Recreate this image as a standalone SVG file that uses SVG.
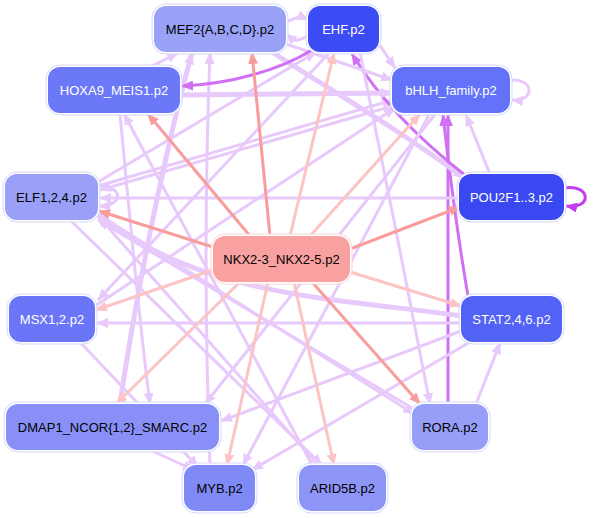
<svg xmlns="http://www.w3.org/2000/svg" width="594" height="518" viewBox="0 0 594 518">
<style>
.n text{font-family:"Liberation Sans",Arial,sans-serif;font-size:13px;text-anchor:middle;dominant-baseline:central}
.o{fill:#fff;stroke:#d4d8fb;stroke-width:1}
.w{fill:#fff}
.k{fill:#000}
.e path{fill:none}
.sd{stroke:#f99c9c;stroke-width:3;marker-end:url(#msd)}
.sl{stroke:#fcc4c4;stroke-width:3;marker-end:url(#msl)}
.lv{stroke:#e8c9fb;stroke-width:3;marker-end:url(#mlv)}
.lt{stroke:#e8c9fb;stroke-width:5;marker-end:url(#mlv)}
.pu{stroke:#d070f4;stroke-width:3;marker-end:url(#mpu)}
.pd{stroke:#c23cf0;stroke-width:3;marker-end:url(#mpd)}
</style>
<defs>
<marker id="msd" markerWidth="12" markerHeight="10" refX="11" refY="5" orient="auto" markerUnits="userSpaceOnUse"><path d="M0,0 L12,5 L0,10 z" fill="#f99c9c"/></marker>
<marker id="msl" markerWidth="12" markerHeight="10" refX="11" refY="5" orient="auto" markerUnits="userSpaceOnUse"><path d="M0,0 L12,5 L0,10 z" fill="#fcc4c4"/></marker>
<marker id="mlv" markerWidth="12" markerHeight="10" refX="11" refY="5" orient="auto" markerUnits="userSpaceOnUse"><path d="M0,0 L12,5 L0,10 z" fill="#e8c9fb"/></marker>
<marker id="mpu" markerWidth="12" markerHeight="10" refX="11" refY="5" orient="auto" markerUnits="userSpaceOnUse"><path d="M0,0 L12,5 L0,10 z" fill="#d070f4"/></marker>
<marker id="mpd" markerWidth="12" markerHeight="10" refX="11" refY="5" orient="auto" markerUnits="userSpaceOnUse"><path d="M0,0 L12,5 L0,10 z" fill="#c23cf0"/></marker>
</defs>
<g id="edges" class="e">
<!-- lavender / purple -->
<path class="lv" d="M286,22 C300,16 300,16 308,20"/>
<path class="lv" d="M308,36 C296,42 296,42 286,34"/>
<path class="lv" d="M150,67 L178,53"/>
<path class="lv" d="M98,182 L316,52"/>
<path class="lv" d="M98,186 L393,100"/>
<path class="lv" d="M95,306 L395,108"/>
<path class="lt" d="M120,404 C135,300 165,150 192,53"/>
<path class="lv" d="M210,465 C205,330 205,180 210,53"/>
<path class="lv" d="M318,465 L98,216"/>
<path class="lv" d="M312,465 L124,114"/>
<path class="lv" d="M412,408 L98,220"/>
<path class="pu" d="M448,404 L448,115"/>
<path class="pu" d="M468,296 C455,220 448,160 443,115"/>
<path class="lv" d="M461,323 L97,323"/>
<path class="lt" d="M461,316 C360,300 200,300 98,214"/>
<path class="lv" d="M461,331 L221,421"/>
<path class="lv" d="M470,342 L252,470"/>
<path class="lv" d="M490,174 L466,115"/>
<path class="lv" d="M459,198 L100,198"/>
<path class="lt" d="M272,52 C330,90 400,130 464,178"/>
<path class="pu" d="M466,176 C420,140 380,100 352,54"/>
<path class="lv" d="M286,44 L392,80"/>
<path class="lv" d="M379,44 L395,68"/>
<path class="lv" d="M393,106 L100,190"/>
<path class="lv" d="M436,113 L205,404"/>
<path class="lv" d="M120,114 C130,220 140,330 150,404"/>
<path class="lv" d="M70,220 L322,465"/>
<path class="lv" d="M98,214 L414,414"/>
<path class="lv" d="M80,342 L198,467"/>
<path class="lv" d="M150,450 L194,470"/>
<path class="lv" d="M430,113 L243,465"/>
<path class="lt" d="M180,95 L392,93"/>
<path class="pu" d="M312,50 C280,70 230,84 182,86"/>
<path class="lv" d="M360,52 C380,150 410,300 430,404"/>
<path class="lv" d="M330,52 L98,300"/>
<path class="lv" d="M476,404 L500,343"/>
<path class="lv" d="M510,80 C535,78 535,102 512,100"/>
<path class="lv" d="M98,186 C124,186 124,206 99,206"/>
<path class="pd" d="M564,188 C592,184 592,210 566,206"/>
<!-- salmon from NKX -->
<path class="sd" d="M270,236 L252,53"/>
<path class="sl" d="M290,236 L334,53"/>
<path class="sd" d="M250,236 L148,114"/>
<path class="sl" d="M310,236 L420,114"/>
<path class="sd" d="M213,247 L99,211"/>
<path class="sd" d="M350,249 L460,207"/>
<path class="sl" d="M213,270 L96,310"/>
<path class="sl" d="M350,272 L461,306"/>
<path class="sl" d="M240,282 L116,404"/>
<path class="sd" d="M312,282 L420,404"/>
<path class="sl" d="M268,282 L227,465"/>
<path class="sl" d="M294,282 L334,465"/>
</g>
<g id="MEF2" class="n"><rect class="o" x="152" y="4" width="136" height="50" rx="14"/><rect x="154" y="6" width="132" height="46" rx="12" fill="#99a2f7"/><text class="k" x="220" y="29">MEF2{A,B,C,D}.p2</text></g>
<g id="EHF" class="n"><rect class="o" x="306" y="4" width="75" height="50" rx="14"/><rect x="308" y="6" width="71" height="46" rx="12" fill="#3b4cf5"/><text class="w" x="343.5" y="29">EHF.p2</text></g>
<g id="HOXA9" class="n"><rect class="o" x="46" y="65" width="136" height="50" rx="14"/><rect x="48" y="67" width="132" height="46" rx="12" fill="#6b78f8"/><text class="w" x="114" y="90">HOXA9_MEIS1.p2</text></g>
<g id="bHLH" class="n"><rect class="o" x="390" y="65" width="122" height="50" rx="14"/><rect x="392" y="67" width="118" height="46" rx="12" fill="#6372f9"/><text class="w" x="451" y="90">bHLH_family.p2</text></g>
<g id="ELF" class="n"><rect class="o" x="3" y="172" width="97" height="50" rx="14"/><rect x="5" y="174" width="93" height="46" rx="12" fill="#9aa0f7"/><text class="k" x="51.5" y="197">ELF1,2,4.p2</text></g>
<g id="POU2F" class="n"><rect class="o" x="457" y="172" width="109" height="50" rx="14"/><rect x="459" y="174" width="105" height="46" rx="12" fill="#3a48f2"/><text class="w" x="511.5" y="197">POU2F1..3.p2</text></g>
<g id="NKX" class="n"><rect x="211" y="234" width="141" height="50" rx="14" fill="#fff" stroke="#fbd4d4"/><rect x="213" y="236" width="137" height="46" rx="12" fill="#f9a0a0"/><text class="k" x="281.5" y="259">NKX2-3_NKX2-5.p2</text></g>
<g id="MSX" class="n"><rect class="o" x="7" y="294" width="90" height="50" rx="14"/><rect x="9" y="296" width="86" height="46" rx="12" fill="#6a76f7"/><text class="w" x="52" y="319">MSX1,2.p2</text></g>
<g id="STAT" class="n"><rect class="o" x="459" y="294" width="105" height="50" rx="14"/><rect x="461" y="296" width="101" height="46" rx="12" fill="#5162f5"/><text class="w" x="511.5" y="319">STAT2,4,6.p2</text></g>
<g id="DMAP1" class="n"><rect class="o" x="4" y="402" width="217" height="50" rx="14"/><rect x="6" y="404" width="213" height="46" rx="12" fill="#8890f7"/><text class="k" x="112.5" y="427">DMAP1_NCOR{1,2}_SMARC.p2</text></g>
<g id="RORA" class="n"><rect class="o" x="410" y="402" width="80" height="50" rx="14"/><rect x="412" y="404" width="76" height="46" rx="12" fill="#979ef7"/><text class="k" x="450" y="427">RORA.p2</text></g>
<g id="MYB" class="n"><rect class="o" x="182" y="463" width="75" height="50" rx="14"/><rect x="184" y="465" width="71" height="46" rx="12" fill="#7f8af6"/><text class="k" x="219.5" y="488">MYB.p2</text></g>
<g id="ARID5B" class="n"><rect class="o" x="297" y="463" width="91" height="50" rx="14"/><rect x="299" y="465" width="87" height="46" rx="12" fill="#8d95f6"/><text class="k" x="342.5" y="488">ARID5B.p2</text></g>
</svg>
